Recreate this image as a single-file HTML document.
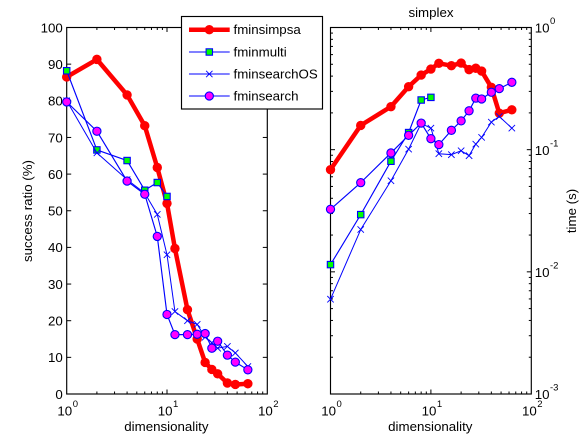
<!DOCTYPE html>
<html>
<head>
<meta charset="utf-8">
<style>
html,body{margin:0;padding:0;background:#fff;}
svg{display:block;font-family:"Liberation Sans",sans-serif;fill:#000;}
text{font-size:13.3px;}
</style>
</head>
<body>
<svg id="chart" width="583" height="439" viewBox="0 0 583 439" xmlns="http://www.w3.org/2000/svg"></svg>
<script>
const dims = [1,2,4,6,8,10,12,16,20,24,28,32,40,48,64];
const multiDims = [1,2,4,6,8,10];
const ratioSimpsa = [86.5,91.3,81.6,73.2,61.8,52,39.7,23,15,8.6,6.7,5.5,3,2.6,2.8];
const ratioMulti = [88.2,66.6,63.7,55.6,57.7,53.9];
const ratioSearchOS = [80,65.8,58.5,54.8,49,38,22.5,20,19,15.5,14,12.5,13,11.2,7.5];
const ratioSearch = [79.7,71.7,58.1,54.5,43,21.7,16.2,16.2,16.3,16.5,12.5,14.4,10.6,8.7,6.6];
const timeSimpsa = [0.0686,0.158,0.225,0.328,0.408,0.457,0.509,0.487,0.512,0.452,0.464,0.44,0.324,0.199,0.212];
const timeMulti = [0.01146,0.0294,0.0804,0.138,0.255,0.268];
const timeSearchOS = [0.00597,0.0222,0.0557,0.101,0.164,0.15,0.0927,0.091,0.098,0.0893,0.111,0.126,0.168,0.187,0.15];
const timeSearch = [0.0325,0.0537,0.094,0.131,0.165,0.123,0.11,0.144,0.172,0.208,0.264,0.26,0.295,0.316,0.356];
const ratioTicks = [0,10,20,30,40,50,60,70,80,90,100];
const logXExponents = [0,1,2];
const logYExponents = [0,-1,-2,-3];
const legendNames = ["fminsimpsa","fminmulti","fminsearchOS","fminsearch"];

const NS = "http://www.w3.org/2000/svg";
const svg = document.getElementById("chart");
const TOP = 27.5, BOTTOM = 394;
const LEFT_A = 66.7, RIGHT_A = 267.3, LEFT_B = 330.5, RIGHT_B = 531.3;

function make(tag, attrs, parent) {
  const el = document.createElementNS(NS, tag);
  for (const k in attrs) el.setAttribute(k, attrs[k]);
  (parent || svg).appendChild(el);
  return el;
}
function xLog(left, right) {
  return v => left + (Math.log10(v) / 2) * (right - left);
}
const xA = xLog(LEFT_A, RIGHT_A);
const xB = xLog(LEFT_B, RIGHT_B);
const yRatio = v => BOTTOM - (v / 100) * (BOTTOM - TOP);
const yTime = v => TOP + (-Math.log10(v) / 3) * (BOTTOM - TOP);

function tickLine(parent, x1, y1, x2, y2) {
  const t = make("line", {x1, y1, x2, y2, stroke: "#000", "stroke-width": 1}, parent);
  
  
}
function powerLabel(parent, x, y, exponent) {
  const g = make("text", {x, y, "text-anchor": "start"}, parent);
  
  
  g.textContent = "10";
  const s = make("tspan", {dy: -8.5, dx: 0.5, style: "font-size:9.5px"}, g);
  s.textContent = String(exponent);
}
function drawFrame(left, right, name) {
  const g = make("g", {});
  
  
  const xs = xLog(left, right);
  for (let d = 0; d < 2; d++) {
    for (let m = 1; m <= 9; m++) {
      const x = xs(m * Math.pow(10, d));
      const len = m === 1 ? 4.5 : 2.5;
      if (m === 1 && d === 0) continue;
      tickLine(g, x, BOTTOM, x, BOTTOM - len);
      tickLine(g, x, TOP, x, TOP + len);
    }
  }
  const frame = make("rect", {x: left, y: TOP, width: right - left, height: BOTTOM - TOP, fill: "none", stroke: "#000", "stroke-width": 1.15}, g);
  
  
  logXExponents.forEach(e => {
    powerLabel(g, xs(Math.pow(10, e)) - 9.3, 415.3, e);
  });
  const xt = make("text", {x: (left + right) / 2 - 0.6, y: 431, "text-anchor": "middle"}, g);
  
  
  xt.textContent = "dimensionality";
  return g;
}

const frameA = drawFrame(LEFT_A, RIGHT_A, "success-axes");
ratioTicks.forEach(v => {
  const y = yRatio(v);
  if (v > 0 && v < 100) {
    tickLine(frameA, LEFT_A, y, LEFT_A + 4.5, y);
    tickLine(frameA, RIGHT_A, y, RIGHT_A - 4.5, y);
  }
  const t = make("text", {x: 62.8, y: y + 4.8, "text-anchor": "end"}, frameA);
  
  
  t.textContent = String(v);
});
const yTitle = make("text", {x: 0, y: 0, "text-anchor": "middle", transform: "translate(32 211) rotate(-90)"}, frameA);


yTitle.textContent = "success ratio (%)";

const frameB = drawFrame(LEFT_B, RIGHT_B, "time-axes");
logYExponents.forEach(e => {
  if (e > -3) {
    for (let m = 1; m <= 9; m++) {
      const y = yTime(m * Math.pow(10, e - 1));
      if (m === 1) {
        if (e - 1 > -3) {
          tickLine(frameB, LEFT_B, y, LEFT_B + 4.5, y);
          tickLine(frameB, RIGHT_B, y, RIGHT_B - 4.5, y);
        }
      } else {
        tickLine(frameB, LEFT_B, y, LEFT_B + 2.5, y);
        tickLine(frameB, RIGHT_B, y, RIGHT_B - 2.5, y);
      }
    }
  }
  powerLabel(frameB, 534.7, yTime(Math.pow(10, e)) + 5.2, e);
});
const yTitleB = make("text", {x: 0, y: 0, "text-anchor": "middle", transform: "translate(576 211) rotate(-90)"}, frameB);


yTitleB.textContent = "time (s)";
const title = make("text", {x: 431, y: 17, "text-anchor": "middle"}, frameB);


title.textContent = "simplex";

function marker(parent, kind, x, y) {
  let m;
  if (kind === "simpsa") {
    m = make("circle", {cx: x, cy: y, r: 4.2, fill: "#f00", stroke: "#f00", "stroke-width": 1}, parent);
  } else if (kind === "multi") {
    m = make("rect", {x: x - 3.2, y: y - 3.2, width: 6.4, height: 6.4, fill: "#0f0", stroke: "#0000ff", "stroke-width": 1.1}, parent);
  } else if (kind === "searchOS") {
    m = make("path", {d: `M${x-3.2} ${y-3.2}L${x+3.2} ${y+3.2}M${x-3.2} ${y+3.2}L${x+3.2} ${y-3.2}`, fill: "none", stroke: "#0000ff", "stroke-width": 0.9}, parent);
  } else {
    m = make("circle", {cx: x, cy: y, r: 4.1, fill: "#f0f", stroke: "#0000ff", "stroke-width": 1.1}, parent);
  }
  
  
}
function drawSeries(kind, xValues, yValues, xf, yf, width, name) {
  const g = make("g", {});
  
  
  const pts = yValues.map((v, i) => xf(xValues[i]).toFixed(2) + "," + yf(v).toFixed(2)).join(" ");
  const line = make("polyline", {points: pts, fill: "none", stroke: kind === "simpsa" ? "#f00" : "#0000ff", "stroke-width": width, "stroke-linejoin": "round"}, g);
  
  
  yValues.forEach((v, i) => marker(g, kind, xf(xValues[i]), yf(v)));
}

drawSeries("simpsa", dims, ratioSimpsa, xA, yRatio, 4.5, "ratio-fminsimpsa");
drawSeries("multi", multiDims, ratioMulti, xA, yRatio, 1.15, "ratio-fminmulti");
drawSeries("searchOS", dims, ratioSearchOS, xA, yRatio, 1, "ratio-fminsearchos");
drawSeries("search", dims, ratioSearch, xA, yRatio, 1.15, "ratio-fminsearch");
drawSeries("simpsa", dims, timeSimpsa, xB, yTime, 4.5, "time-fminsimpsa");
drawSeries("multi", multiDims, timeMulti, xB, yTime, 1.15, "time-fminmulti");
drawSeries("searchOS", dims, timeSearchOS, xB, yTime, 1, "time-fminsearchos");
drawSeries("search", dims, timeSearch, xB, yTime, 1.15, "time-fminsearch");

const legend = make("g", {});


const legendBox = make("rect", {x: 181.5, y: 16.5, width: 141, height: 92.5, fill: "#fff", stroke: "#000", "stroke-width": 1.15}, legend);


const legendKinds = ["simpsa", "multi", "searchOS", "search"];
const legendRows = [29.7, 52, 74, 96];
legendNames.forEach((label, i) => {
  const row = make("g", {}, legend);
  
  
  const y = legendRows[i];
  const kind = legendKinds[i];
  const sample = make("line", {x1: 189, y1: y, x2: 229.7, y2: y, stroke: kind === "simpsa" ? "#f00" : "#0000ff", "stroke-width": kind === "simpsa" ? 4.5 : 1}, row);
  
  
  marker(row, kind, 209.3, y);
  const text = make("text", {x: 233.5, y: y + 4.5}, row);
  
  
  text.textContent = label;
});
</script>
</body>
</html>
